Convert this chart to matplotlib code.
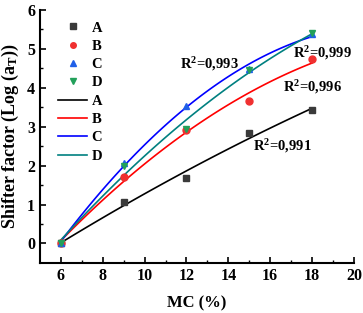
import numpy as np
import matplotlib.pyplot as plt
from matplotlib.lines import Line2D

plt.rcParams['font.family'] = ['Liberation Serif', 'DejaVu Serif']
plt.rcParams['font.weight'] = 'bold'
plt.rcParams['mathtext.fontset'] = 'custom'
plt.rcParams['mathtext.rm'] = 'Liberation Serif:bold'
plt.rcParams['mathtext.it'] = 'Liberation Serif:bold'

# data
mc = [6, 9, 12, 15, 18]
a_vals = [0, 1.07, 1.68, 2.85, 3.43]
b_vals = [0, 1.72, 2.92, 3.67, 4.73]
c_vals = [0, 2.08, 3.53, 4.48, 5.38]
d_vals = [0, 2.00, 2.95, 4.45, 5.40]
names = ['A', 'B', 'C', 'D']
r2_text = ['R$^2$=0,991', 'R$^2$=0,996', 'R$^2$=0,993', 'R$^2$=0,999']
r2_pos = [(15.2, 2.5), (16.6, 4.03), (11.7, 4.6), (17.1, 4.9)]

series = [a_vals, b_vals, c_vals, d_vals]
mcols = ['#3a3a3a', '#f03030', '#1f5fe8', '#22a05a']
lcols = ['black', '#ff0000', '#0000ff', '#008080']
marks = ['s', 'o', '^', 'v']

fig = plt.figure(figsize=(3.63, 3.13), dpi=100)
ax = fig.add_axes([0.110, 0.160, 0.865, 0.808])

xs = np.linspace(6, 18, 100)
for vals, lc in zip(series, lcols):
    p = np.polyfit(mc, vals, 2)
    ax.plot(xs, np.polyval(p, xs), color=lc, lw=1.2, zorder=2)
for vals, mc_, mk in zip(series, mcols, marks):
    ax.plot(mc, vals, ls='none', marker=mk, color=mc_, ms=5, zorder=3)

for t, (x, y) in zip(r2_text, r2_pos):
    ax.text(x, y, t, fontsize=10.5, fontweight='bold', va='center', ha='left')

ax.set_xlim(5, 20)
ax.set_ylim(-0.5, 6)
ax.set_xticks([6, 8, 10, 12, 14, 16, 18, 20])
ax.set_xticks([7, 9, 11, 13, 15, 17, 19], minor=True)
ax.set_yticks([0, 1, 2, 3, 4, 5, 6])
ax.set_yticks([0.5, 1.5, 2.5, 3.5, 4.5, 5.5], minor=True)
ax.tick_params(direction='in', width=1.2, length=4, labelsize=11.5)
ax.tick_params(which='minor', direction='in', width=1.0, length=2.5)
for s in ['top', 'right']:
    ax.spines[s].set_visible(False)
for s in ['left', 'bottom']:
    ax.spines[s].set_linewidth(1.5)
for lab in ax.get_xticklabels() + ax.get_yticklabels():
    lab.set_fontweight('bold')

ax.set_xlabel('MC (%)', fontsize=12, fontweight='bold', labelpad=8)
ax.set_ylabel('Shifter factor (Log (a$_T$))', fontsize=13, fontweight='bold', labelpad=4)

handles = [Line2D([], [], ls='none', marker=mk, color=c, ms=4) for mk, c in zip(marks, mcols)]
handles += [Line2D([], [], color=c, lw=1.2) for c in lcols]
ax.legend(handles, names + names, loc='upper left', bbox_to_anchor=(0.03, 0.99),
          frameon=False, fontsize=10.5, handlelength=2.0, handletextpad=0.3,
          labelspacing=0.35, borderaxespad=0.2)

fig.savefig('out.png', dpi=100)
